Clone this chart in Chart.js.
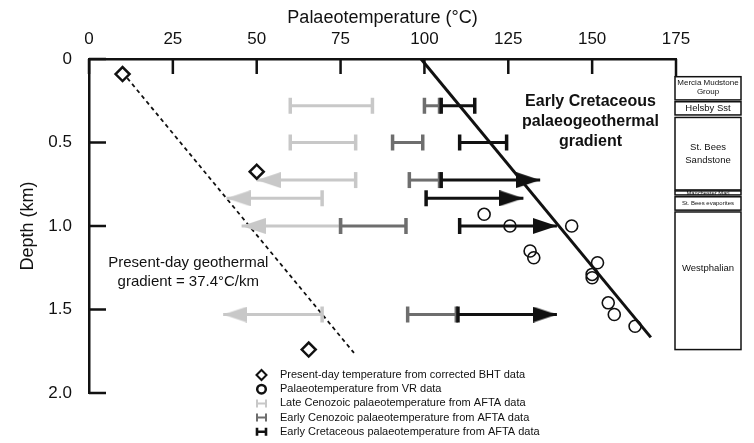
<!DOCTYPE html>
<html>
<head>
<meta charset="utf-8">
<script src="https://cdn.jsdelivr.net/npm/chart.js@4.4.1/dist/chart.umd.min.js"></script>
<style>
  html, body { margin: 0; padding: 0; background: #fff; }
  #wrap { position: relative; width: 754px; height: 443px; }
</style>
</head>
<body>
<div id="wrap"><canvas id="chart"></canvas></div>
<script>
// axis ticks
const tempTicks = [0, 25, 50, 75, 100, 125, 150, 175];
const depthTicks = [0, 0.5, 1.0, 1.5, 2.0];
const depthTickLabels = ['0', '0.5', '1.0', '1.5', '2.0'];

// present-day temperature from corrected BHT data
const bhtTemp = [10, 50, 65.5];
const bhtDepth = [0.09, 0.675, 1.74];

// palaeotemperature from VR data
const vrTemp = [117.8, 125.5, 143.9, 131.5, 132.6, 151.6, 150, 150, 154.8, 156.6, 162.8];
const vrDepth = [0.93, 1.0, 1.0, 1.15, 1.19, 1.22, 1.29, 1.31, 1.46, 1.53, 1.60];

// AFTA palaeotemperature ranges, one row per sample depth (km)
const aftaDepth = [0.28, 0.50, 0.725, 0.834, 1.0, 1.53];
const lateCenoLow = [60, 60, 50, 41, 45.5, 40];
const lateCenoHigh = [84.5, 79.5, 79.5, 69.5, 75, 69.5];
const lateCenoLowOpen = [false, false, true, true, true, true];
const earlyCenoLow = [100, 90.5, 95.5, null, 75, 95];
const earlyCenoHigh = [104.5, 99.5, 104.5, null, 94.5, 109.5];
const earlyCretLow = [105, 110.5, 105, 100.5, 110.5, 110];
const earlyCretHigh = [115, 124.5, 134.5, 129.5, 139.5, 139.5];
const earlyCretHighOpen = [false, false, true, true, true, true];

// geothermal gradients
const presentGradTemp = [10, 79];
const presentGradDepth = [0.08, 1.76];
const cretGradTemp = [99, 167.5];
const cretGradDepth = [0, 1.667];

// stratigraphic column (depths in km)
const unitNames = [['Mercia Mudstone', 'Group'], ['Helsby Sst'], ['St. Bees', 'Sandstone'], ['Manchester Marl'], ['St. Bees evaporites'], ['Westphalian']];
const unitTop = [0.106, 0.256, 0.35, 0.79, 0.825, 0.916];
const unitBase = [0.245, 0.335, 0.784, 0.814, 0.905, 1.74];

const legendLabels = [
  'Present-day temperature from corrected BHT data',
  'Palaeotemperature from VR data',
  'Late Cenozoic palaeotemperature from AFTA data',
  'Early Cenozoic palaeotemperature from AFTA data',
  'Early Cretaceous palaeotemperature from AFTA data'
];

const FONT = "'Liberation Sans', Arial, sans-serif";
const INK = '#111';
const LIGHT = '#c8c8c8';
const MID = '#6e6e6e';

Chart.defaults.font.family = FONT;
Chart.defaults.color = INK;

function arrowHead(color, dir) {
  const L = 24, H = 16;
  const c = document.createElement('canvas');
  c.width = 2 * L; c.height = H;
  const g = c.getContext('2d');
  g.fillStyle = color;
  g.beginPath();
  if (dir > 0) { g.moveTo(0, 0); g.lineTo(L, H / 2); g.lineTo(0, H); }
  else { g.moveTo(2 * L, 0); g.lineTo(L, H / 2); g.lineTo(2 * L, H); }
  g.closePath();
  g.fill();
  return c;
}
const leftGrey = arrowHead(LIGHT, -1);
const rightBlack = arrowHead(INK, 1);

const datasets = [];

function addBar(low, high, depth, color, lowArrow, highArrow, order) {
  datasets.push({
    showLine: true,
    data: [{x: low, y: depth}, {x: high, y: depth}],
    borderColor: color,
    borderWidth: 3,
    pointStyle: [lowArrow || 'line', highArrow || 'line'],
    pointRotation: [lowArrow ? 0 : 90, highArrow ? 0 : 90],
    pointRadius: 8,
    pointBorderWidth: 3.5,
    pointBorderColor: color,
    pointBackgroundColor: color,
    order: order
  });
}

aftaDepth.forEach((d, i) => {
  addBar(earlyCretLow[i], earlyCretHigh[i], d, INK, null, earlyCretHighOpen[i] ? rightBlack : null, 3);
  if (earlyCenoLow[i] !== null) addBar(earlyCenoLow[i], earlyCenoHigh[i], d, MID, null, null, 4);
  addBar(lateCenoLow[i], lateCenoHigh[i], d, LIGHT, lateCenoLowOpen[i] ? leftGrey : null, null, 5);
});

datasets.push({
  showLine: true,
  data: presentGradTemp.map((t, i) => ({x: t, y: presentGradDepth[i]})),
  borderColor: INK, borderWidth: 1.8, borderDash: [4, 3.5], pointRadius: 0, order: 6
});
datasets.push({
  showLine: true,
  data: cretGradTemp.map((t, i) => ({x: t, y: cretGradDepth[i]})),
  borderColor: INK, borderWidth: 3, pointRadius: 0, order: 2
});
datasets.push({
  data: vrTemp.map((t, i) => ({x: t, y: vrDepth[i]})),
  pointStyle: 'circle', pointRadius: 6, pointBorderWidth: 1.6,
  pointBorderColor: INK, pointBackgroundColor: 'rgba(0,0,0,0)', order: 1
});
datasets.push({
  data: bhtTemp.map((t, i) => ({x: t, y: bhtDepth[i]})),
  pointStyle: 'rectRot', pointRadius: 7, pointBorderWidth: 2.5,
  pointBorderColor: INK, pointBackgroundColor: '#fff', order: 0
});

const extras = {
  id: 'extras',
  afterDraw(chart) {
    const {ctx, chartArea: a, scales: {x, y}} = chart;
    ctx.save();
    // inward ticks and the frame corner
    ctx.strokeStyle = INK;
    ctx.lineWidth = 2.5;
    ctx.beginPath();
    tempTicks.forEach(t => {
      const px = x.getPixelForValue(t);
      ctx.moveTo(px, a.top); ctx.lineTo(px, a.top + 15);
    });
    depthTicks.forEach(d => {
      const py = y.getPixelForValue(d);
      ctx.moveTo(a.left, py); ctx.lineTo(a.left + 17, py);
    });
    ctx.moveTo(a.right, a.top); ctx.lineTo(a.right, y.getPixelForValue(unitTop[0]));
    ctx.stroke();

    // stratigraphic column
    const colL = a.right - 1, colR = 741;
    const sizes = [8, 9.5, 9.5, 5.8, 6, 9.5];
    const lineGap = [9, 0, 13, 0, 0, 0];
    const pos = [0.45, 0.5, 0.5, 0.5, 0.5, 0.41];
    ctx.lineWidth = 1.5;
    ctx.fillStyle = INK;
    ctx.textAlign = 'center';
    ctx.textBaseline = 'middle';
    unitNames.forEach((lines, i) => {
      const t = y.getPixelForValue(unitTop[i]);
      const b = y.getPixelForValue(unitBase[i]);
      ctx.strokeRect(colL, t, colR - colL, b - t);
      ctx.font = sizes[i] + 'px ' + FONT;
      const cy = t + (b - t) * pos[i] - (lines.length - 1) * lineGap[i] / 2;
      lines.forEach((s, j) => ctx.fillText(s, (colL + colR) / 2, cy + j * lineGap[i]));
    });

    // annotations
    ctx.font = 'bold 16px ' + FONT;
    ['Early Cretaceous', 'palaeogeothermal', 'gradient'].forEach((s, j) => {
      ctx.fillText(s, x.getPixelForValue(149.5), y.getPixelForValue(0.255) + j * 20);
    });
    ctx.font = '15px ' + FONT;
    ['Present-day geothermal', 'gradient = 37.4°C/km'].forEach((s, j) => {
      ctx.fillText(s, x.getPixelForValue(29.6), y.getPixelForValue(1.22) + j * 19);
    });

    // legend
    const lx = 261.5, tx = 280, ly = 375, step = 14.2;
    ctx.textAlign = 'left';
    ctx.font = '11px ' + FONT;
    legendLabels.forEach((s, i) => {
      const cy = ly + i * step;
      ctx.fillStyle = INK;
      ctx.fillText(s, tx, cy);
      ctx.beginPath();
      if (i === 0) {
        ctx.lineWidth = 2;
        ctx.strokeStyle = INK;
        ctx.moveTo(lx - 5, cy); ctx.lineTo(lx, cy - 5); ctx.lineTo(lx + 5, cy); ctx.lineTo(lx, cy + 5); ctx.closePath();
      } else if (i === 1) {
        ctx.lineWidth = 2.5;
        ctx.strokeStyle = INK;
        ctx.arc(lx, cy, 4.3, 0, Math.PI * 2);
      } else {
        ctx.strokeStyle = [LIGHT, MID, INK][i - 2];
        ctx.lineWidth = i === 4 ? 2.6 : 2;
        ctx.moveTo(lx - 4.5, cy); ctx.lineTo(lx + 4.5, cy);
        ctx.moveTo(lx - 4.5, cy - 4); ctx.lineTo(lx - 4.5, cy + 4);
        ctx.moveTo(lx + 4.5, cy - 4); ctx.lineTo(lx + 4.5, cy + 4);
      }
      ctx.stroke();
    });
    ctx.restore();
  }
};

new Chart(document.getElementById('chart'), {
  type: 'scatter',
  data: { datasets: datasets },
  options: {
    responsive: true,
    maintainAspectRatio: false,
    animation: false,
    events: [],
    layout: { padding: { left: 0, top: 0, right: 78, bottom: 50 } },
    plugins: { legend: { display: false }, tooltip: { enabled: false } },
    scales: {
      x: {
        type: 'linear', position: 'top', min: 0, max: 175,
        afterBuildTicks: s => { s.ticks = tempTicks.map(v => ({value: v})); },
        ticks: { font: { size: 17 }, color: INK, padding: 9, maxRotation: 0, autoSkip: false, callback: v => String(v) },
        grid: { display: false, drawTicks: false },
        border: { display: true, color: INK, width: 2.5 },
        title: { display: true, text: 'Palaeotemperature (°C)', font: { size: 18 }, color: INK, padding: { top: 7, bottom: 0 } },
        afterFit: s => { s.height = 59; }
      },
      y: {
        type: 'linear', reverse: true, min: 0, max: 2,
        afterBuildTicks: s => { s.ticks = depthTicks.map(v => ({value: v})); },
        ticks: { font: { size: 17 }, color: INK, padding: 17, autoSkip: false, callback: (v, i) => depthTickLabels[i] },
        grid: { display: false, drawTicks: false },
        border: { display: true, color: INK, width: 2.5 },
        title: { display: true, text: 'Depth (km)', font: { size: 18 }, color: INK, padding: { top: 17, bottom: 0 } },
        afterFit: s => { s.width = 89; }
      }
    }
  },
  plugins: [extras]
});
</script>
</body>
</html>
